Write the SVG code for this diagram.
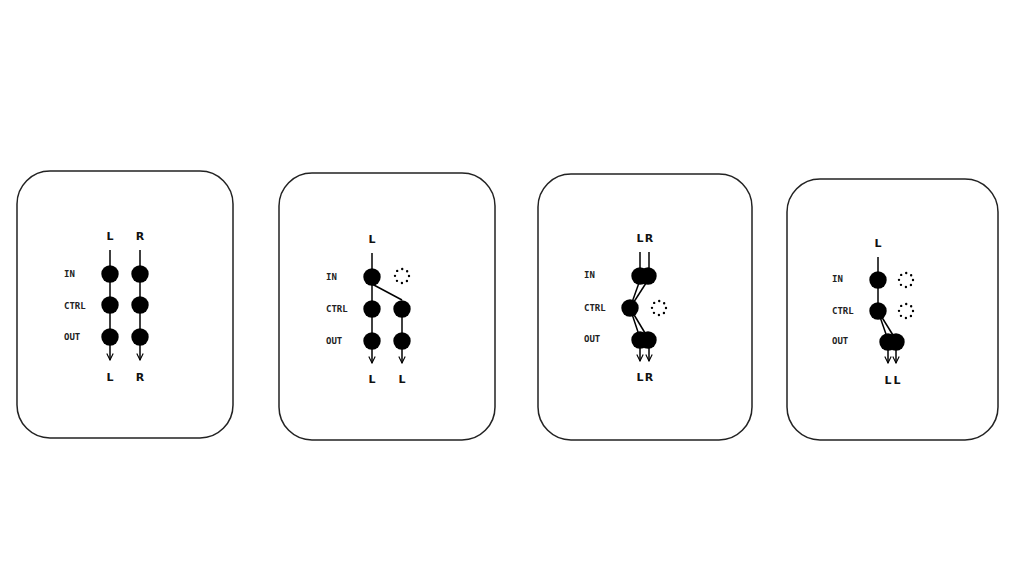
<svg xmlns="http://www.w3.org/2000/svg" width="1024" height="576" viewBox="0 0 1024 576">
<defs>
<style>
.box{fill:#fff;stroke:#222;stroke-width:1.5}
.node{fill:#000}
.ghost{fill:none;stroke:#000;stroke-width:2.4;stroke-linecap:round;stroke-dasharray:0 5.5}
.wire{fill:none;stroke:#000;stroke-width:1.5}
.lab{font-family:"DejaVu Sans Mono","Liberation Mono",monospace;font-size:9px;font-weight:bold;fill:#222}
.ch{font-family:"DejaVu Sans","Liberation Sans",sans-serif;font-size:11px;font-weight:bold;fill:#111;text-anchor:middle}
</style>
<marker id="arr" viewBox="0 0 10 10" refX="9" refY="5" markerWidth="8" markerHeight="8" markerUnits="userSpaceOnUse" orient="auto">
<path d="M1,1 L9,5 L1,9" fill="none" stroke="#000" stroke-width="1.4"/>
</marker>
</defs>
<rect width="1024" height="576" fill="#fff"/>

<g id="panel1">
<rect class="box" x="17" y="171" width="216" height="267" rx="33"/>
<text class="ch" x="110" y="240">L</text><text class="ch" x="140" y="240">R</text>
<text class="lab" x="64" y="277">IN</text>
<text class="lab" x="64" y="309">CTRL</text>
<text class="lab" x="64" y="340">OUT</text>
<text class="ch" x="110" y="381">L</text><text class="ch" x="140" y="381">R</text>
</g>
<g id="panel2">
<rect class="box" x="279" y="173" width="216" height="267" rx="33"/>
<text class="ch" x="372" y="243">L</text>
<text class="lab" x="326" y="280">IN</text>
<text class="lab" x="326" y="312">CTRL</text>
<text class="lab" x="326" y="344">OUT</text>
<text class="ch" x="372" y="383">L</text><text class="ch" x="402" y="383">L</text>
</g>
<g id="panel3">
<rect class="box" x="538" y="174" width="214" height="266" rx="33"/>
<text class="ch" x="640" y="242">L</text><text class="ch" x="649" y="242">R</text>
<text class="lab" x="584" y="278">IN</text>
<text class="lab" x="584" y="311">CTRL</text>
<text class="lab" x="584" y="342">OUT</text>
<text class="ch" x="640" y="381">L</text><text class="ch" x="649" y="381">R</text>
</g>
<g id="panel4">
<rect class="box" x="787" y="179" width="211" height="261" rx="33"/>
<text class="ch" x="878" y="247">L</text>
<text class="lab" x="832" y="282">IN</text>
<text class="lab" x="832" y="314">CTRL</text>
<text class="lab" x="832" y="344">OUT</text>
<text class="ch" x="888" y="384">L</text><text class="ch" x="897" y="384">L</text>
</g>

<g id="connectors">
<line class="wire" x1="110" y1="250" x2="110" y2="360" marker-end="url(#arr)"/>
<line class="wire" x1="140" y1="250" x2="140" y2="360" marker-end="url(#arr)"/>
<line class="wire" x1="372" y1="253" x2="372" y2="363" marker-end="url(#arr)"/>
<line class="wire" x1="372" y1="284" x2="402" y2="300"/>
<line class="wire" x1="402" y1="309" x2="402" y2="363" marker-end="url(#arr)"/>
<line class="wire" x1="640" y1="252" x2="640" y2="276"/>
<line class="wire" x1="649" y1="252" x2="649" y2="276"/>
<line class="wire" x1="640" y1="280" x2="630" y2="308"/>
<line class="wire" x1="648" y1="280" x2="630" y2="308"/>
<line class="wire" x1="630" y1="308" x2="640" y2="338"/>
<line class="wire" x1="630" y1="308" x2="648" y2="338"/>
<line class="wire" x1="640" y1="340" x2="640" y2="361" marker-end="url(#arr)"/>
<line class="wire" x1="649" y1="340" x2="649" y2="361" marker-end="url(#arr)"/>
<line class="wire" x1="878" y1="257" x2="878" y2="311"/>
<line class="wire" x1="878" y1="311" x2="888" y2="340"/>
<line class="wire" x1="878" y1="311" x2="896" y2="340"/>
<line class="wire" x1="888" y1="342" x2="888" y2="363" marker-end="url(#arr)"/>
<line class="wire" x1="896" y1="342" x2="896" y2="363" marker-end="url(#arr)"/>
</g>

<g id="nodes">
<circle class="node" cx="110" cy="274" r="8.7"/><circle class="node" cx="140" cy="274" r="8.7"/>
<circle class="node" cx="110" cy="305" r="8.7"/><circle class="node" cx="140" cy="305" r="8.7"/>
<circle class="node" cx="110" cy="337" r="8.7"/><circle class="node" cx="140" cy="337" r="8.7"/>

<circle class="node" cx="372" cy="277" r="8.7"/><circle class="ghost" cx="402" cy="276" r="7"/>
<circle class="node" cx="372" cy="309" r="8.7"/><circle class="node" cx="402" cy="309" r="8.7"/>
<circle class="node" cx="372" cy="341" r="8.7"/><circle class="node" cx="402" cy="341" r="8.7"/>

<circle class="node" cx="640" cy="276" r="8.7"/><circle class="node" cx="648" cy="276" r="8.7"/>
<circle class="node" cx="630" cy="308" r="8.7"/><circle class="ghost" cx="659" cy="308" r="7"/>
<circle class="node" cx="640" cy="340" r="8.7"/><circle class="node" cx="648" cy="340" r="8.7"/>

<circle class="node" cx="878" cy="280" r="8.7"/><circle class="ghost" cx="906" cy="280" r="7"/>
<circle class="node" cx="878" cy="311" r="8.7"/><circle class="ghost" cx="906" cy="311" r="7"/>
<circle class="node" cx="888" cy="342" r="8.7"/><circle class="node" cx="896" cy="342" r="8.7"/>
</g>
</svg>
